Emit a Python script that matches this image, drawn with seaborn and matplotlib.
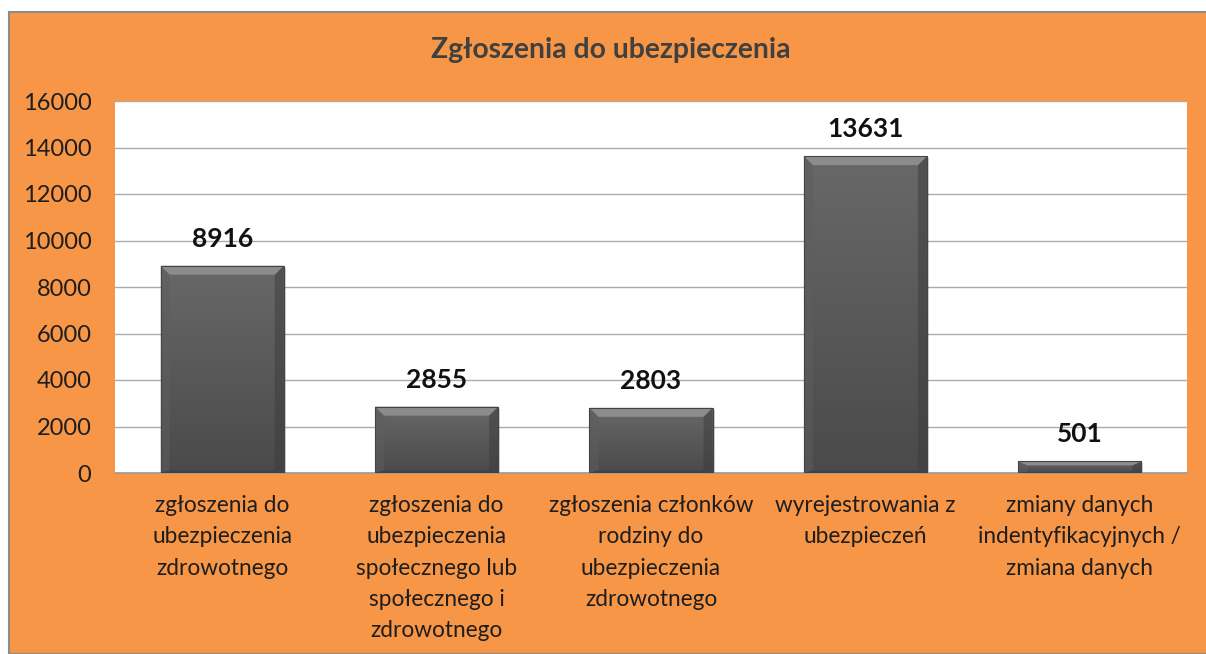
import matplotlib
matplotlib.use("Agg")
import matplotlib.pyplot as plt
import matplotlib.patches as mpatches
import matplotlib.colors as mcolors
import numpy as np
import pandas as pd
import seaborn as sns

# ---- data ----
categories = [
    "zgłoszenia do\nubezpieczenia\nzdrowotnego",
    "zgłoszenia do\nubezpieczenia\nspołecznego lub\nspołecznego i\nzdrowotnego",
    "zgłoszenia członków\nrodziny do\nubezpieczenia\nzdrowotnego",
    "wyrejestrowania z\nubezpieczeń",
    "zmiany danych\nindentyfikacyjnych /\nzmiana danych",
]
values = [8916, 2855, 2803, 13631, 501]
yticks = [0, 2000, 4000, 6000, 8000, 10000, 12000, 14000, 16000]
title = "Zgłoszenia do ubezpieczenia"

df = pd.DataFrame({"cat": categories, "val": values})

sns.set_theme(style="white")
plt.rcParams["font.family"] = ["Lato", "DejaVu Sans"]

ORANGE = "#F79646"
W, H = 1206, 654
fig = plt.figure(figsize=(W / 100, H / 100), dpi=100, facecolor="white")

# orange chart frame
frame = mpatches.Rectangle((9 / W, 0), 1 - 9 / W + 0.01, (H - 12) / H,
                           transform=fig.transFigure, facecolor=ORANGE,
                           edgecolor="#8C8C8C", linewidth=1.5, zorder=-10)
fig.patches.append(frame)

ax = fig.add_axes([115 / W, (H - 473) / H, (1187 - 115) / W, (473 - 101) / H])
ax.set_zorder(1)
ax.set_facecolor("white")

sns.barplot(data=df, x="cat", y="val", color="#5A5A5A", width=0.574,
            ax=ax, zorder=3, edgecolor="none", saturation=1)

ax.set_ylim(0, 16000)
ax.set_xlim(-0.5, 4.5)
ax.set_yticks(yticks)
ax.set_yticklabels([str(t) for t in yticks])
ax.yaxis.grid(True, color="#ABABAB", linewidth=1.0, zorder=0)
ax.set_axisbelow(True)
for s in ["top", "right", "left"]:
    ax.spines[s].set_visible(False)
ax.spines["bottom"].set_color("#9A9A9A")
ax.spines["bottom"].set_linewidth(1.2)
ax.set_xlabel("")
ax.set_ylabel("")
ax.tick_params(axis="y", length=0, pad=17, labelsize=17, labelcolor="#1E1E1E")
ax.tick_params(axis="x", length=0, pad=16, labelsize=16.3, labelcolor="#1E1E1E")
for lbl in ax.get_xticklabels():
    lbl.set_linespacing(1.6)
    lbl.set_verticalalignment("top")

# gradient / bevel styling of bars
px_per_unit_y = (473 - 101) / 16000
px_per_unit_x = (1187 - 115) / 5
grad = np.linspace(0, 1, 256).reshape(-1, 1)
cmap = mcolors.LinearSegmentedColormap.from_list("g", ["#686868", "#4A4A4A"])
bars = list(ax.patches)
for p, v in zip(bars, values):
    x0, w = p.get_x(), p.get_width()
    h = p.get_height()
    sh = mpatches.Rectangle((x0 + 2 / px_per_unit_x, 0), w, h - 2 / px_per_unit_y,
                            facecolor="#000000", alpha=0.18, edgecolor="none", zorder=2)
    ax.add_patch(sh)
    im = ax.imshow(grad, extent=(x0, x0 + w, 0, h), origin="upper",
                   cmap=cmap, aspect="auto", zorder=3.5)
    im.set_clip_path(p)
    bx = 9 / px_per_unit_x
    by = min(9 / px_per_unit_y, h * 0.35)
    top = mpatches.Polygon([(x0, h), (x0 + w, h), (x0 + w - bx, h - by), (x0 + bx, h - by)],
                           facecolor="#8C8C8C", edgecolor="none", zorder=4)
    left = mpatches.Polygon([(x0, h), (x0 + bx, h - by), (x0 + bx, by * 0.3), (x0, 0)],
                            facecolor="#5E5E5E", edgecolor="none", zorder=4, alpha=0.5)
    right = mpatches.Polygon([(x0 + w, h), (x0 + w - bx, h - by), (x0 + w - bx, by * 0.3), (x0 + w, 0)],
                             facecolor="#3C3C3C", edgecolor="none", zorder=4, alpha=0.5)
    bottom = mpatches.Polygon([(x0, 0), (x0 + w, 0), (x0 + w - bx, by * 0.3), (x0 + bx, by * 0.3)],
                              facecolor="#3A3A3A", edgecolor="none", zorder=4, alpha=0.5)
    for poly in (left, right, bottom, top):
        ax.add_patch(poly)
    outline = mpatches.Rectangle((x0, 0), w, h, facecolor="none", edgecolor="#444444",
                                 linewidth=0.8, zorder=4.5)
    ax.add_patch(outline)
    ax.annotate(str(v), (x0 + w / 2, h), xytext=(0, 19.5), textcoords="offset points",
                ha="center", va="center", fontsize=19, fontweight="bold",
                color="#111111", zorder=6, annotation_clip=False)

fig.text(611 / W, (H - 50) / H, title, ha="center", va="center",
         fontsize=20.3, fontweight="bold", color="#404040")

fig.savefig("out.png", dpi=100, facecolor=fig.get_facecolor())
